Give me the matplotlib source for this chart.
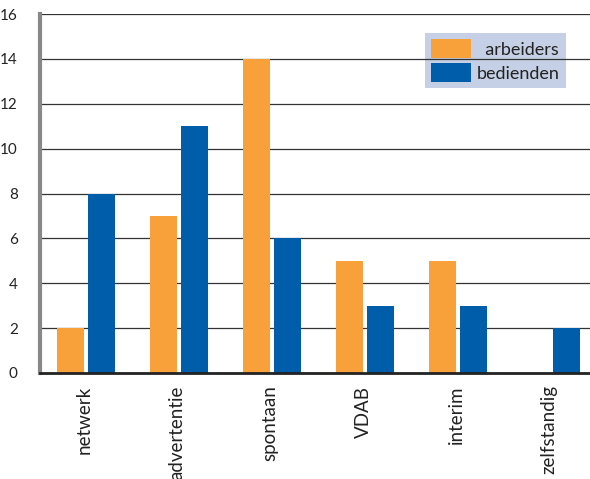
import matplotlib
matplotlib.use("Agg")
import matplotlib.pyplot as plt
import numpy as np

categories = ["netwerk", "advertentie", "spontaan", "VDAB", "interim", "zelfstandig"]
arbeiders = [2, 7, 14, 5, 5, 0]
bediendes = [8, 11, 6, 3, 3, 2]
series_names = ["  arbeiders", "bedienden"]
yticks = [0, 2, 4, 6, 8, 10, 12, 14, 16]

plt.rcParams['font.family'] = ['Lato', 'DejaVu Sans']

fig = plt.figure(figsize=(5.9, 4.79), dpi=100)
ax = fig.add_axes([40/590, (479-373)/479, 550/590, (373-14)/479])

x = np.arange(len(categories))
w = 0.29
off = 0.17
ax.bar(x - off, arbeiders, width=w, color="#F8A03A", zorder=3, label=series_names[0])
ax.bar(x + off, bediendes, width=w, color="#005DAA", zorder=3, label=series_names[1])

for t in yticks[1:]:
    ax.axhline(t, color="#333333", lw=0.9, zorder=2)

ax.set_xlim(-0.495, 5.42)
ax.set_ylim(0, 16)
ax.set_yticks(yticks)
ax.set_xticks(x - 0.02)
ax.set_xticklabels(categories, rotation=90, fontsize=13.5, color="#222222")
ax.tick_params(axis='y', length=0, pad=16, labelsize=11, labelcolor="#222222")
ax.tick_params(axis='x', length=0, pad=9)

for s in ["top", "right"]:
    ax.spines[s].set_visible(False)
ax.spines["left"].set_color("#888888")
ax.spines["left"].set_linewidth(3)
ax.spines["bottom"].set_color("#222222")
ax.spines["bottom"].set_linewidth(2)
ax.spines["bottom"].set_zorder(4)

leg = ax.legend(loc="upper left", bbox_to_anchor=(385/550, 1 - 19/359), frameon=True,
                fancybox=False, facecolor="#C5D0E6", edgecolor="none", framealpha=1,
                fontsize=13, handlelength=2.2, handleheight=1.2, handletextpad=0.3,
                borderpad=0.35, labelspacing=0.3, borderaxespad=0)
leg.set_zorder(1)
for t in leg.get_texts():
    t.set_color("#222222")

fig.savefig("out.png", dpi=100)
